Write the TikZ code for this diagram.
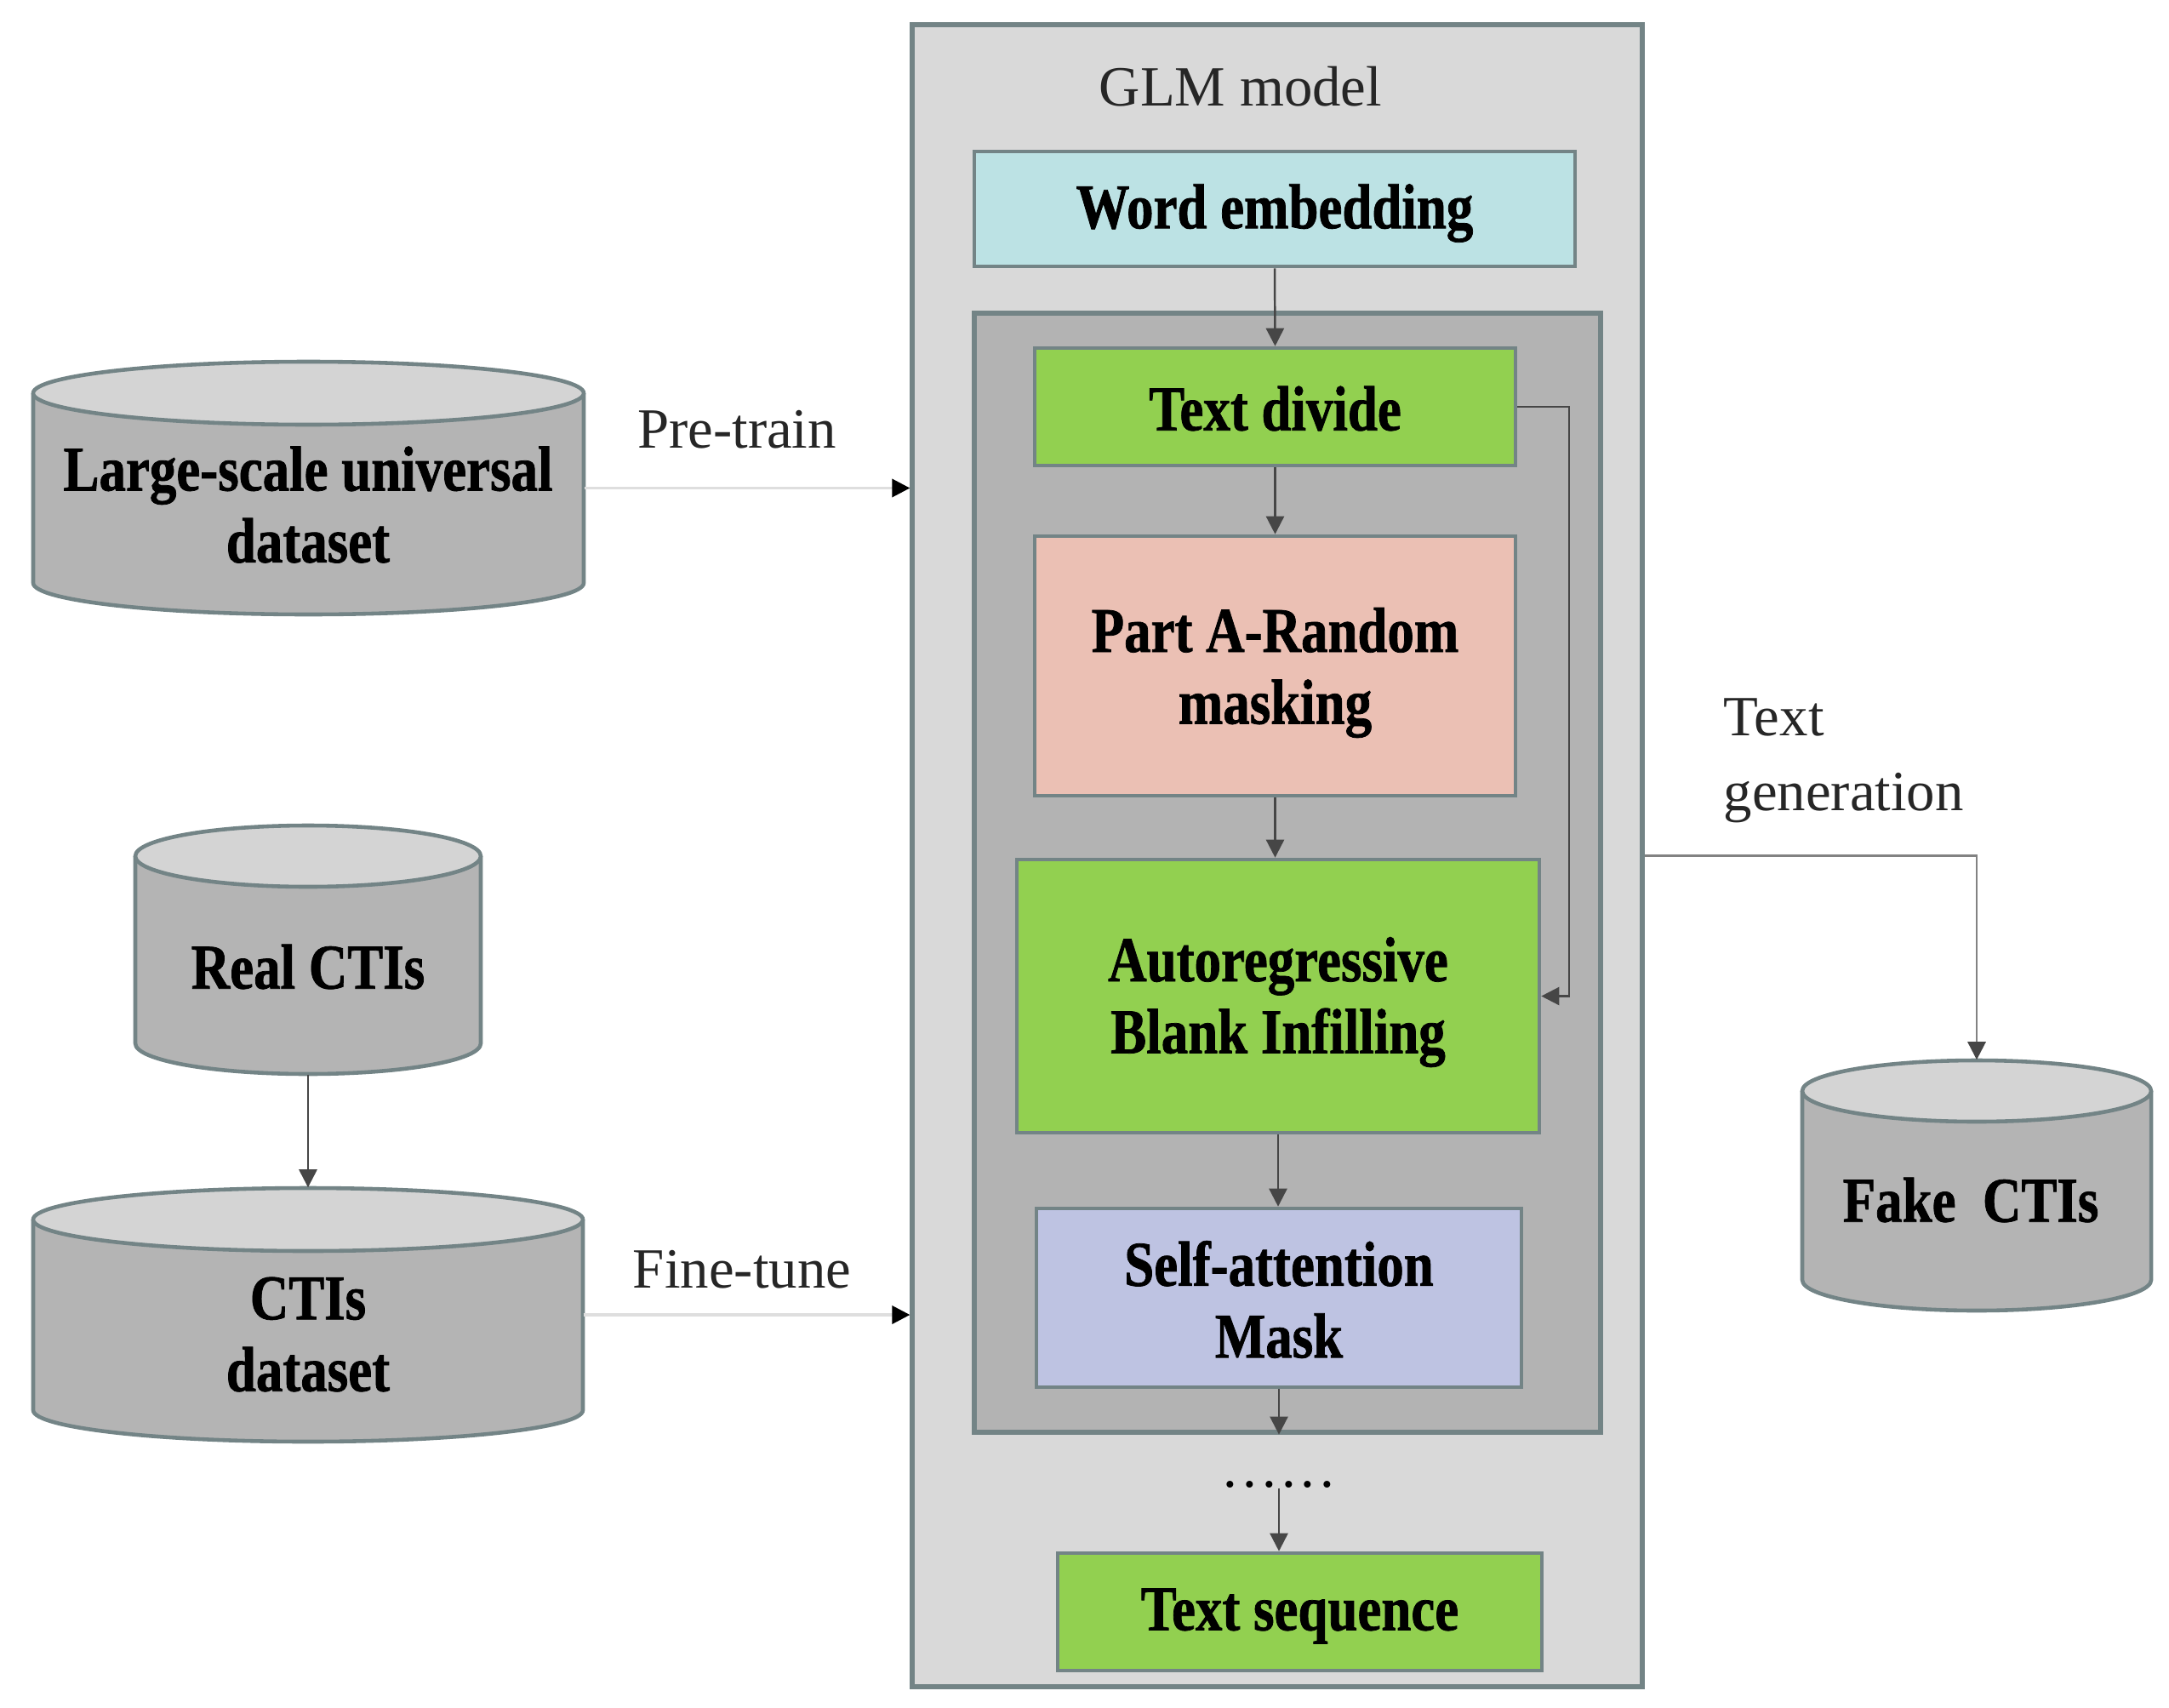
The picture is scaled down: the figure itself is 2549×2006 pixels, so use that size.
\documentclass[tikz,border=0pt]{standalone}
\usepackage{fontspec}
\setmainfont{Liberation Serif}
\newfontfamily\condbold{Liberation Serif}[FakeStretch=0.84,FakeBold=1]
\usetikzlibrary{fit,arrows.meta}
\definecolor{bordc}{RGB}{115,132,134}
\definecolor{outerfill}{RGB}{217,217,217}
\definecolor{innerfill}{RGB}{179,179,179}
\definecolor{cyanfill}{RGB}{188,226,228}
\definecolor{greenfill}{RGB}{146,208,80}
\definecolor{pinkfill}{RGB}{235,192,180}
\definecolor{lavfill}{RGB}{190,195,226}
\definecolor{cylbody}{RGB}{180,180,180}
\definecolor{cyltop}{RGB}{212,212,212}
\definecolor{lightline}{RGB}{222,222,222}
\definecolor{darkline}{RGB}{70,70,70}
\definecolor{midline}{RGB}{130,130,130}
\newcommand{\drawcyl}[6]{%
  \node[inner sep=0pt, fit={(#2,#3) (#4,#5)}] (#1) {};
  \pgfmathsetmacro\cylrx{(#4-#2)/2*0.01}%
  \pgfmathsetmacro\cylry{#6*0.01}%
  \pgfmathsetmacro\cylcx{(#2+#4)/2}%
  \draw[cylline, fill=cylbody] (#2,#3+#6) -- (#2,#5-#6)
     arc[start angle=180, end angle=360, x radius=\cylrx cm, y radius=\cylry cm]
     -- (#4,#3+#6);
  \draw[cylline, fill=cyltop] (\cylcx,#3+#6) ellipse [x radius=\cylrx cm, y radius=\cylry cm];
}
\begin{document}
\begin{tikzpicture}[x=0.01cm,y=-0.01cm,
  box/.style={draw=bordc, line width=1.3pt, inner sep=0pt},
  cylline/.style={draw=bordc, line width=1.3pt},
  boxtext/.style={font=\condbold\bfseries\fontsize{21.3}{24}\selectfont, align=center, text=black},
  plain/.style={font=\fontsize{19}{25}\selectfont, inner sep=0pt, text=black!85},
  arr/.style={-{Triangle[length=6pt,width=6pt]}, line width=0.7pt, draw=darkline},
  lightarr/.style={-{Triangle[length=6pt,width=6pt,color=black]}, line width=1pt, draw=lightline},
  midarr/.style={-{Triangle[length=6pt,width=6pt,color=darkline]}, line width=0.7pt, draw=midline}]
\useasboundingbox[fill=white] (0,0) rectangle (2549,2006);

% GLM model container
\node[box, fill=outerfill, line width=1.5pt, fit={(1072,29) (1930,1982)}] (glm) {};
\node[box, fill=innerfill, line width=1.5pt, fit={(1145,368) (1881,1683)}] (inner) {};
\node[plain] (glmt) at (1458,102) {GLM model};

\node[box, fill=cyanfill, fit={(1145,178) (1851,313)},
      label={[boxtext, yshift=-0.05cm]center:Word embedding}] (we) {};
\node[box, fill=greenfill, fit={(1216,409) (1781,547)},
      label={[boxtext, yshift=-0.02cm]center:Text divide}] (td) {};
\node[box, fill=pinkfill, fit={(1216,630) (1781,935)},
      label={[boxtext, yshift=-0.08cm]center:Part A-Random\\masking}] (pa) {};
\node[box, fill=greenfill, fit={(1195,1010) (1809,1331)},
      label={[boxtext, yshift=-0.07cm]center:Autoregressive\\Blank Infilling}] (ar) {};
\node[box, fill=lavfill, fit={(1218,1420) (1788,1630)},
      label={[boxtext, yshift=-0.02cm]center:Self-attention\\Mask}] (sa) {};
\node[box, fill=greenfill, fit={(1243,1825) (1812,1963)},
      label={[boxtext, yshift=-0.05cm]center:Text sequence}] (ts) {};
\node[plain, text=black] (dots) at (1503,1744) {.\hspace{1.75pt}.\hspace{1.75pt}.\hspace{1.75pt}.\hspace{1.75pt}.\hspace{1.75pt}.};

% cylinders
\drawcyl{lsu}{39}{425}{686}{722}{37}
\drawcyl{real}{159}{970}{565}{1262}{36}
\drawcyl{cti}{39}{1396}{685}{1694}{37}
\drawcyl{fake}{2118}{1246}{2528}{1540}{36}
\node[boxtext] (lsut) at (362,593) {Large-scale universal\\dataset};
\node[boxtext] (realt) at (362,1136) {Real CTIs};
\node[boxtext] (ctit) at (362,1568) {CTIs\\dataset};
\node[boxtext] (faket) at (2316,1410) {Fake\ \ CTIs};

% labels
\node[plain] (pt) at (866,505) {Pre-train};
\node[plain] (ft) at (872,1492) {Fine-tune};
\node[plain, align=left, anchor=west] (tg) at (2025,894) {Text\\generation};

% connectors
\draw[lightarr] (lsu.east) -- (lsu.east -| glm.west);
\draw[lightarr] (cti.east) -- (cti.east -| glm.west);
\draw[arr] (real.south) -- (cti.north);
\draw[midarr] (glm.east) -| (fake.north);
\draw[arr] (we.south) -- (td.north);
\draw[arr] (td.south) -- (pa.north);
\draw[arr] (pa.south) -- (pa.south |- ar.north);
\draw[arr] (ar.south) -- (ar.south |- sa.north);
\draw[arr] (sa.south) -- (sa.south |- inner.south);
\draw[arr] (dots.south) -- (dots.south |- ts.north);
\coordinate (fb) at (1844,0);
\draw[arr] (td.east) -- (td.east -| fb) -- (ar.east -| fb) -- (ar.east);
\end{tikzpicture}
\end{document}
